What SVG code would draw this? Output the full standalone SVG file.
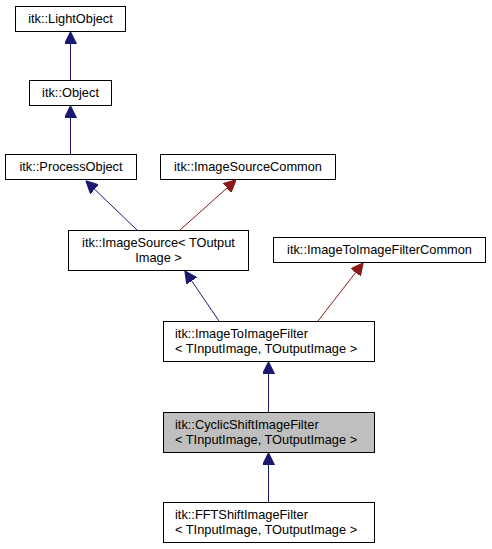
<svg xmlns="http://www.w3.org/2000/svg" width="492" height="549" viewBox="0 0 492 549">
<style>
.n rect{fill:#fff;stroke:#000;stroke-width:1}
.n text{font-family:"Liberation Sans",Arial,sans-serif;font-size:12.8px;fill:#000}
.c{text-anchor:middle}
.b{stroke:#191970;fill:none}
.r{stroke:#8b1a1a;fill:none}
</style>
<defs>
<marker id="hb" markerWidth="12" markerHeight="12" refX="10" refY="5" orient="auto" markerUnits="userSpaceOnUse" viewBox="0 0 10 10"><path d="M0,0 L10,5 L0,10 z" fill="#191970" stroke="#191970"/></marker>
<marker id="hr" markerWidth="12" markerHeight="12" refX="10" refY="5" orient="auto" markerUnits="userSpaceOnUse" viewBox="0 0 10 10"><path d="M0,0 L10,5 L0,10 z" fill="#8b1a1a" stroke="#8b1a1a"/></marker>
</defs>
<rect width="492" height="549" fill="#fff"/>
<g id="edges">
<path class="b" d="M70.5,80 V32" marker-end="url(#hb)"/>
<path class="b" d="M70.5,154 V106" marker-end="url(#hb)"/>
<path class="b" d="M137,230 L86,181" marker-end="url(#hb)"/>
<path class="r" d="M180,230 L236,180" marker-end="url(#hr)"/>
<path class="b" d="M219,321 L185,271" marker-end="url(#hb)"/>
<path class="r" d="M318,321 L363,263" marker-end="url(#hr)"/>
<path class="b" d="M268.5,412 V362" marker-end="url(#hb)"/>
<path class="b" d="M268.5,502 V453" marker-end="url(#hb)"/>
</g>
<g id="lightobject" class="n"><rect x="15.5" y="6.5" width="110" height="25"/><text class="c" x="70.5" y="23">itk::LightObject</text></g>
<g id="object" class="n"><rect x="29.5" y="80.5" width="82" height="25"/><text class="c" x="70.5" y="97">itk::Object</text></g>
<g id="processobject" class="n"><rect x="5.5" y="154.5" width="131" height="25"/><text class="c" x="71" y="171">itk::ProcessObject</text></g>
<g id="imagesourcecommon" class="n"><rect x="160.5" y="154.5" width="175" height="25"/><text class="c" x="248" y="171">itk::ImageSourceCommon</text></g>
<g id="imagesource" class="n"><rect x="68.5" y="230.5" width="180" height="40"/><text class="c" x="158.5" y="247">itk::ImageSource&lt; TOutput</text><text class="c" x="158.5" y="262">Image &gt;</text></g>
<g id="imagetoimagefiltercommon" class="n"><rect x="273.5" y="237.5" width="212" height="25"/><text class="c" x="379.5" y="254">itk::ImageToImageFilterCommon</text></g>
<g id="imagetoimagefilter" class="n"><rect x="163.5" y="321.5" width="211" height="40"/><text x="175" y="338">itk::ImageToImageFilter</text><text x="175" y="353">&lt; TInputImage, TOutputImage &gt;</text></g>
<g id="cyclicshiftimagefilter" class="n"><rect x="163.5" y="412.5" width="211" height="40" style="fill:#bfbfbf"/><text x="175" y="429">itk::CyclicShiftImageFilter</text><text x="175" y="444">&lt; TInputImage, TOutputImage &gt;</text></g>
<g id="fftshiftimagefilter" class="n"><rect x="163.5" y="502.5" width="211" height="40"/><text x="175" y="519">itk::FFTShiftImageFilter</text><text x="175" y="534">&lt; TInputImage, TOutputImage &gt;</text></g>
</svg>
